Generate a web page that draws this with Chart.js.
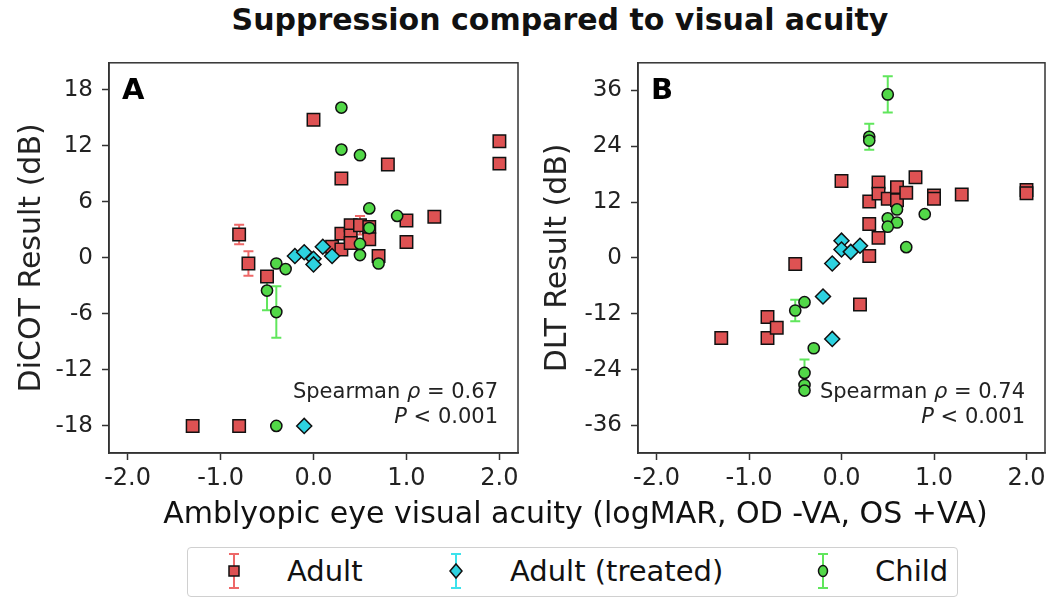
<!DOCTYPE html>
<html>
<head>
<meta charset="utf-8">
<script src="https://cdn.jsdelivr.net/npm/chart.js@4.4.0/dist/chart.umd.min.js"></script>
<style>
    body { margin: 0; background: #fff; width: 1061px; height: 599px; position: relative; overflow: hidden; font-family: "DejaVu Sans", sans-serif; color: #111; }
    #title { position: absolute; left: 0; width: 1120px; top: 3px; text-align: center; font-weight: bold; font-size: 30px; line-height: 34px; }
    #panelA { position: absolute; left: 0; top: 40px; }
    #panelB { position: absolute; left: 530px; top: 40px; }
    #xlabel { position: absolute; left: 0; width: 1151px; top: 496px; text-align: center; font-size: 30px; line-height: 34px; white-space: nowrap; }
    #legend { position: absolute; left: 187px; top: 547px; width: 769px; height: 48px; border: 1px solid #d0d0d0; border-radius: 4px; font-size: 29px; }
    #legend svg { position: absolute; top: 4px; }
    #legend span { position: absolute; top: 6px; white-space: nowrap; }
</style>
</head>
<body>
<div id="title">Suppression compared to visual acuity</div>
<canvas id="panelA" width="530" height="460"></canvas>
<canvas id="panelB" width="531" height="460"></canvas>
<div id="xlabel">Amblyopic eye visual acuity (logMAR, OD -VA, OS +VA)</div>
<div id="legend"></div>
<script>
// [visual acuity, result, error]  (error 0 = none drawn)
const adultA = [[-1.3, -18, 0], [-0.8, -18, 0], [-0.8, 2.5, 1.05], [-0.7, -0.6, 1.3], [-0.5, -2.0, 0],
    [0.0, 14.8, 0], [0.2, 1.2, 0], [0.3, 0.9, 0], [0.3, 2.6, 0], [0.3, 8.5, 0], [0.4, 3.5, 0],
    [0.4, 2.4, 0], [0.4, 1.6, 0], [0.5, 3.5, 1.0], [0.6, 3.3, 0], [0.6, 2.0, 0], [0.7, 0.2, 0],
    [0.8, 10.0, 0], [1.0, 4.0, 0], [1.0, 1.7, 0], [1.3, 4.4, 0], [2.0, 12.5, 0], [2.0, 10.1, 0]];
const treatedA = [[-0.1, -18, 0], [-0.2, 0.2, 0], [-0.1, 0.6, 0], [0.0, -0.1, 0], [0.0, -0.7, 0],
    [0.1, 1.2, 0], [0.2, 0.2, 0]];
const childA = [[-0.4, -18, 0], [-0.5, -3.5, 2.1], [-0.4, -5.8, 2.75], [-0.4, -0.6, 0], [-0.3, -1.2, 0],
    [0.3, 16.1, 0.3], [0.3, 11.6, 0], [0.5, 11.0, 0], [0.6, 5.3, 0], [0.9, 4.5, 0], [0.6, 3.2, 0],
    [0.5, 1.5, 0], [0.5, 0.3, 0], [0.7, -0.6, 0]];

const adultB = [[-1.3, -17.2, 0], [-0.8, -17.2, 0], [-0.8, -12.7, 0], [-0.7, -15.0, 0], [-0.5, -1.3, 0],
    [0.0, 16.5, 0], [0.2, -10.0, 0], [0.3, 12.1, 0], [0.3, 7.3, 0], [0.3, 0.4, 0], [0.4, 16.2, 0],
    [0.4, 13.8, 0], [0.4, 4.3, 0], [0.5, 12.7, 0], [0.6, 15.2, 0], [0.6, 12.4, 0], [0.7, 14.0, 0],
    [0.8, 17.3, 0], [1.0, 13.4, 0], [1.0, 12.7, 0], [1.3, 13.6, 0], [2.0, 14.6, 0], [2.0, 13.9, 0]];
const treatedB = [[-0.2, -8.3, 0], [-0.1, -17.4, 0], [-0.1, -1.2, 0], [0.0, 3.7, 0], [0.0, 1.8, 0],
    [0.1, 1.3, 0], [0.2, 2.6, 0]];
const childB = [[0.5, 35.1, 3.9], [0.3, 26.0, 2.8], [0.3, 25.2, 0], [0.6, 10.4, 0], [0.5, 8.5, 0],
    [0.6, 7.6, 0], [0.5, 6.7, 0], [0.9, 9.4, 0], [0.7, 2.3, 0], [-0.4, -9.5, 0], [-0.5, -11.3, 2.3],
    [-0.3, -19.4, 0], [-0.4, -24.7, 2.9], [-0.4, -27.3, 0], [-0.4, -28.5, 0]];

const xTicks = [-2, -1, 0, 1, 2];
const yTicksA = [-18, -12, -6, 0, 6, 12, 18];
const yTicksB = [-36, -24, -12, 0, 12, 24, 36];
const groupNames = ['Adult', 'Adult (treated)', 'Child'];
const stats = { A: ['0.67', '0.001'], B: ['0.74', '0.001'] };

const FONT = '"DejaVu Sans", sans-serif';
const styles = [
    { fill: 'rgb(222, 82, 83)', err: 'rgb(238, 104, 104)', shape: 'rect', radius: 8.8 },
    { fill: 'rgb(45, 210, 224)', err: 'rgb(60, 226, 236)', shape: 'rectRot', radius: 7.5 },
    { fill: 'rgb(82, 216, 72)', err: 'rgb(96, 230, 92)', shape: 'circle', radius: 5.6 },
];

const toPoints = (rows) => rows.map(([x, y, err]) => ({ x, y, err }));

const errorBars = {
    id: 'errorBars',
    beforeDatasetsDraw(chart) {
        const { ctx } = chart;
        const xs = chart.scales.x;
        const ys = chart.scales.y;
        chart.data.datasets.forEach((ds) => {
            ctx.save();
            ctx.strokeStyle = ds.errColor;
            ctx.lineWidth = 2;
            ds.data.forEach((p) => {
                if (!p.err) return;
                const x = xs.getPixelForValue(p.x);
                const top = ys.getPixelForValue(p.y + p.err);
                const bot = ys.getPixelForValue(p.y - p.err);
                ctx.beginPath();
                ctx.moveTo(x, top); ctx.lineTo(x, bot);
                ctx.moveTo(x - 5, top); ctx.lineTo(x + 5, top);
                ctx.moveTo(x - 5, bot); ctx.lineTo(x + 5, bot);
                ctx.stroke();
            });
            ctx.restore();
        });
    },
};

const drawSegments = (ctx, segs, right, y) => {
    let x = right;
    for (let i = segs.length - 1; i >= 0; i--) {
        const [text, italic] = segs[i];
        ctx.font = `${italic ? 'italic ' : ''}21px ${FONT}`;
        x -= ctx.measureText(text).width;
        ctx.fillText(text, x, y);
    }
};

const annotations = {
    id: 'annotations',
    afterDatasetsDraw(chart, args, opts) {
        const { ctx, chartArea } = chart;
        ctx.save();
        ctx.fillStyle = '#000';
        ctx.textBaseline = 'alphabetic';
        ctx.textAlign = 'left';
        ctx.font = `bold 29px ${FONT}`;
        ctx.fillText(opts.panel, chartArea.left + 13, chartArea.top + 36);
        ctx.fillStyle = '#222';
        const [rho, p] = stats[opts.panel];
        drawSegments(ctx, [['Spearman ', false], ['ρ', true], [' = ' + rho, false]], chartArea.right - 20, chartArea.bottom - 55);
        drawSegments(ctx, [['P', true], [' < ' + p, false]], chartArea.right - 20, chartArea.bottom - 30);
        // frame
        ctx.strokeStyle = '#333';
        ctx.lineWidth = 1.5;
        ctx.strokeRect(chartArea.left, chartArea.top, chartArea.right - chartArea.left, chartArea.bottom - chartArea.top);
        ctx.restore();
    },
};

const makePanel = (canvas, panel, series, yTicks, yMax, yTitle, yWidth, padRight, titlePad) => {
    const datasets = series.map((rows, i) => ({
        label: groupNames[i],
        data: toPoints(rows),
        pointStyle: styles[i].shape,
        pointRadius: styles[i].radius,
        pointHoverRadius: styles[i].radius,
        backgroundColor: styles[i].fill,
        borderColor: '#111',
        borderWidth: 1.5,
        errColor: styles[i].err,
        showLine: false,
        order: 3 - i,
    }));
    const axisBase = {
        type: 'linear',
        grid: { display: true, drawOnChartArea: false, drawTicks: true, tickLength: 7, color: '#333', tickWidth: 1.5 },
        border: { display: true, color: '#333', width: 1.5 },
    };
    return new Chart(canvas, {
        type: 'scatter',
        data: { datasets },
        options: {
            responsive: false,
            animation: false,
            devicePixelRatio: 1,
            layout: { padding: { top: 17, right: padRight, bottom: 0, left: 0 } },
            plugins: {
                legend: { display: false },
                tooltip: { enabled: false },
                annotations: { panel },
            },
            scales: {
                x: {
                    ...axisBase,
                    min: -2.2, max: 2.2,
                    afterBuildTicks: (s) => { s.ticks = xTicks.map((v) => ({ value: v })); },
                    afterFit: (s) => { s.height = 47; },
                    ticks: { callback: (v) => v.toFixed(1), font: { family: FONT, size: 24 }, color: '#222', padding: 4, autoSkip: false, maxRotation: 0 },
                },
                y: {
                    ...axisBase,
                    min: -yMax, max: yMax,
                    afterBuildTicks: (s) => { s.ticks = yTicks.map((v) => ({ value: v })); },
                    afterFit: (s) => { s.width = yWidth; },
                    ticks: { callback: (v) => String(v), font: { family: FONT, size: 23 }, color: '#222', padding: 9, autoSkip: false },
                    title: { display: true, text: yTitle, font: { family: FONT, size: 30 }, color: '#222', padding: { top: titlePad, bottom: 0 } },
                },
            },
        },
        plugins: [errorBars, annotations],
    });
};

makePanel(document.getElementById('panelA'), 'A', [adultA, treatedA, childA], yTicksA, 20.9, 'DiCOT Result (dB)', 109, 12, 14);
makePanel(document.getElementById('panelB'), 'B', [adultB, treatedB, childB], yTicksB, 41.9, 'DLT Result (dB)', 108, 16, 10);

// legend
const legend = document.getElementById('legend');
const iconX = [46, 268, 635];
const textX = [99, 322, 687];
const markerSvg = (i) => {
    const s = styles[i];
    if (s.shape === 'rect') return `<rect x="5" y="14" width="10" height="10" fill="${s.fill}" stroke="#111" stroke-width="1.5"/>`;
    if (s.shape === 'rectRot') return `<polygon points="10,12 16,19 10,26 4,19" fill="${s.fill}" stroke="#111" stroke-width="1.5"/>`;
    return `<ellipse cx="10" cy="19" rx="4.5" ry="5.5" fill="${s.fill}" stroke="#111" stroke-width="1.5"/>`;
};
groupNames.forEach((name, i) => {
    const s = styles[i];
    legend.insertAdjacentHTML('beforeend', `
        <svg width="20" height="40" style="left:${iconX[i] - 10}px">
            <path d="M10 2 V36 M5 2 H15 M5 36 H15" stroke="${s.err}" stroke-width="2" fill="none"/>
            ${markerSvg(i)}
        </svg>
        <span style="left:${textX[i]}px">${name}</span>`);
});
</script>
</body>
</html>
